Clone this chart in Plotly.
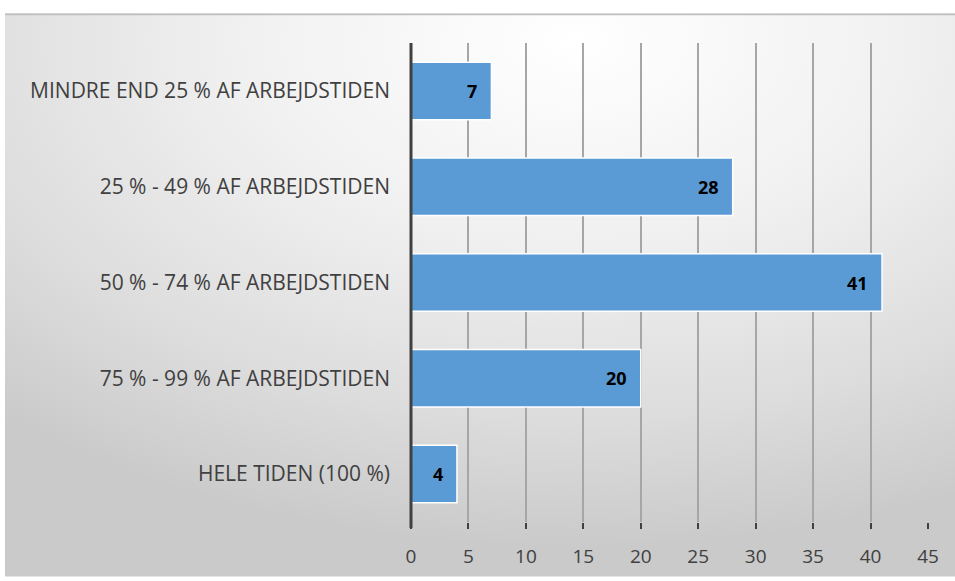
import base64
import plotly.graph_objects as go

categories = [
    "MINDRE END 25 % AF ARBEJDSTIDEN",
    "25 % - 49 % AF ARBEJDSTIDEN",
    "50 % - 74 % AF ARBEJDSTIDEN",
    "75 % - 99 % AF ARBEJDSTIDEN",
    "HELE TIDEN (100 %)",
]
values = [7, 28, 41, 20, 4]
tick_vals = [0, 5, 10, 15, 20, 25, 30, 35, 40, 45]

W, H = 955, 581
L, R, T, B = 411, 27, 43, 56
pw = W - L - R
ph = H - T - B
FONT = "Open Sans, Lato, sans-serif"

svg = (
    '<svg xmlns="http://www.w3.org/2000/svg" width="950" height="567" preserveAspectRatio="none">'
    '<defs><radialGradient id="g" cx="0.6" cy="0.05" r="0.9" fx="0.6" fy="0.05">'
    '<stop offset="0" stop-color="#ffffff"/>'
    '<stop offset="0.4" stop-color="#f0f0f0"/>'
    '<stop offset="0.75" stop-color="#dcdcdc"/>'
    '<stop offset="1" stop-color="#cacaca"/>'
    '</radialGradient></defs>'
    '<rect x="0" y="0" width="950" height="567" fill="url(#g)"/>'
    '<line x1="0" y1="1" x2="950" y2="1" stroke="#bfbfbf" stroke-width="2"/>'
    '</svg>'
)
src = "data:image/svg+xml;base64," + base64.b64encode(svg.encode()).decode()

x0p = (5 - L) / pw
x1p = (955 - L) / pw
y0p = (H - B - 580) / ph
y1p = (H - B - 13) / ph

fig = go.Figure()
fig.add_trace(go.Bar(
    y=categories,
    x=values,
    orientation="h",
    width=0.6,
    marker=dict(color="#5B9BD5", line=dict(color="#ffffff", width=1.5)),
    hoverinfo="x+y",
))

annotations = [
    dict(x=v, y=c, xref="x", yref="y", text=f"<b>{v}</b>", showarrow=False,
         xanchor="right", yanchor="middle", xshift=-12,
         font=dict(family=FONT, size=18, color="#000000"))
    for c, v in zip(categories, values)
]

fig.update_layout(
    width=W, height=H,
    margin=dict(l=L, r=R, t=T, b=B),
    paper_bgcolor="#ffffff",
    plot_bgcolor="rgba(0,0,0,0)",
    showlegend=False,
    annotations=annotations,
    images=[dict(
        source=src, xref="paper", yref="paper",
        x=x0p, y=y1p, sizex=x1p - x0p, sizey=y1p - y0p,
        xanchor="left", yanchor="top", sizing="stretch", layer="below",
    )],
    xaxis=dict(
        range=[0, 45], tickvals=tick_vals, ticktext=[str(t) for t in tick_vals],
        showgrid=True, gridcolor="#a6a6a6", gridwidth=1.5,
        zeroline=False, showline=False,
        ticks="outside", ticklen=6, tickcolor="#404040", tickwidth=1.5,
        tickfont=dict(family=FONT, size=19, color="#404040"),
        ticklabelstandoff=11,
    ),
    yaxis=dict(
        categoryorder="array", categoryarray=categories[::-1],
        showgrid=False, zeroline=False,
        showline=False, ticks="",
        tickfont=dict(family=FONT, size=21, color="#404040"),
        ticklabelstandoff=20,
    ),
)
fig.add_shape(type="line", xref="paper", yref="paper", x0=0, x1=0, y0=-6 / ph, y1=1,
              line=dict(color="#404040", width=3), layer="above")

fig.write_html("out.html", config={"displayModeBar": False},
               post_script="document.body.style.margin='0';")
